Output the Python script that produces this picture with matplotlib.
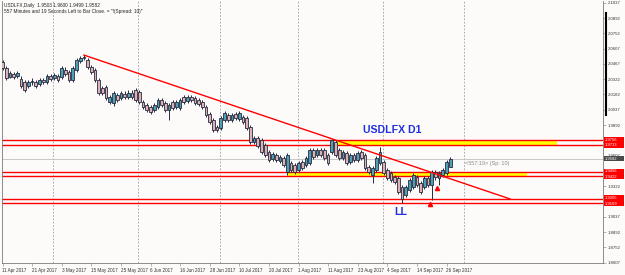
import matplotlib
matplotlib.use('Agg')
import matplotlib.pyplot as plt
from matplotlib.lines import Line2D
from matplotlib.patches import Rectangle

# ---------------- data ----------------
opens = [2.0484, 2.0428, 2.0344, 2.0372, 2.0353, 2.0325, 2.0297, 2.0260, 2.0297, 2.0297,
         2.0278, 2.0316, 2.0297, 2.0353, 2.0335, 2.0353, 2.0344, 2.0409, 2.0391, 2.0316,
         2.0409, 2.0493, 2.0521, 2.0503, 2.0437, 2.0409, 2.0316, 2.0241, 2.0250, 2.0110,
         2.0101, 2.0176, 2.0148, 2.0185, 2.0157, 2.0194, 2.0222, 2.0204, 2.0110, 2.0082,
         2.0064, 2.0036, 2.0064, 2.0129, 2.0101, 2.0036, 2.0110, 2.0064, 2.0054, 2.0157,
         2.0120, 2.0157, 2.0148, 2.0129, 2.0110, 2.0064, 1.9998, 1.9942, 1.9877, 1.9868,
         1.9942, 1.9989, 1.9942, 1.9998, 1.9952, 1.9970, 1.9961, 1.9877, 1.9737, 1.9774,
         1.9755, 1.9709, 1.9643, 1.9578, 1.9615, 1.9559, 1.9587, 1.9457, 1.9541, 1.9522,
         1.9475, 1.9550, 1.9522, 1.9541, 1.9662, 1.9615, 1.9662, 1.9662, 1.9615, 1.9643,
         1.9737, 1.9662, 1.9587, 1.9634, 1.9550, 1.9615, 1.9569, 1.9643, 1.9615, 1.9503,
         1.9428, 1.9475, 1.9541, 1.9550, 1.9475, 1.9447, 1.9410, 1.9401, 1.9316, 1.9242,
         1.9288, 1.9316, 1.9410, 1.9354, 1.9316, 1.9401, 1.9335, 1.9457, 1.9401, 1.9428,
         1.9447, 1.9503]
highs = [2.0503, 2.0447, 2.0400, 2.0391, 2.0400, 2.0353, 2.0316, 2.0316, 2.0335, 2.0316,
         2.0335, 2.0335, 2.0372, 2.0372, 2.0381, 2.0372, 2.0447, 2.0437, 2.0409, 2.0447,
         2.0521, 2.0540, 2.0549, 2.0521, 2.0456, 2.0428, 2.0335, 2.0260, 2.0269, 2.0176,
         2.0213, 2.0194, 2.0213, 2.0213, 2.0222, 2.0222, 2.0241, 2.0222, 2.0129, 2.0101,
         2.0082, 2.0101, 2.0148, 2.0148, 2.0120, 2.0101, 2.0129, 2.0129, 2.0148, 2.0176,
         2.0176, 2.0176, 2.0166, 2.0148, 2.0129, 2.0082, 2.0017, 1.9961, 1.9896, 1.9980,
         2.0026, 2.0008, 2.0008, 2.0017, 2.0026, 1.9989, 1.9980, 1.9896, 1.9793, 1.9793,
         1.9774, 1.9727, 1.9662, 1.9643, 1.9634, 1.9615, 1.9606, 1.9634, 1.9559, 1.9541,
         1.9559, 1.9569, 1.9606, 1.9681, 1.9681, 1.9681, 1.9681, 1.9681, 1.9634, 1.9765,
         1.9755, 1.9681, 1.9662, 1.9653, 1.9634, 1.9634, 1.9653, 1.9662, 1.9634, 1.9522,
         1.9513, 1.9606, 1.9690, 1.9569, 1.9494, 1.9466, 1.9428, 1.9419, 1.9335, 1.9335,
         1.9401, 1.9447, 1.9428, 1.9372, 1.9419, 1.9419, 1.9475, 1.9475, 1.9466, 1.9494,
         1.9569, 1.9600]
lows = [2.0409, 2.0316, 2.0335, 2.0325, 2.0335, 2.0241, 2.0204, 2.0241, 2.0269, 2.0241,
        2.0260, 2.0278, 2.0278, 2.0306, 2.0316, 2.0297, 2.0325, 2.0353, 2.0297, 2.0297,
        2.0391, 2.0475, 2.0503, 2.0419, 2.0372, 2.0297, 2.0176, 2.0176, 2.0129, 2.0092,
        2.0073, 2.0110, 2.0129, 2.0138, 2.0138, 2.0138, 2.0110, 2.0092, 2.0045, 2.0017,
        1.9998, 2.0017, 2.0045, 2.0064, 2.0017, 1.9942, 2.0036, 2.0045, 2.0036, 2.0092,
        2.0101, 2.0110, 2.0082, 2.0073, 2.0045, 1.9970, 1.9905, 1.9830, 1.9830, 1.9849,
        1.9924, 1.9924, 1.9924, 1.9942, 1.9933, 1.9905, 1.9849, 1.9718, 1.9718, 1.9681,
        1.9625, 1.9597, 1.9550, 1.9559, 1.9550, 1.9541, 1.9503, 1.9428, 1.9457, 1.9438,
        1.9457, 1.9475, 1.9503, 1.9522, 1.9578, 1.9597, 1.9597, 1.9569, 1.9522, 1.9625,
        1.9597, 1.9569, 1.9569, 1.9522, 1.9531, 1.9550, 1.9550, 1.9569, 1.9475, 1.9438,
        1.9354, 1.9457, 1.9522, 1.9428, 1.9382, 1.9363, 1.9344, 1.9251, 1.9167, 1.9223,
        1.9270, 1.9298, 1.9316, 1.9251, 1.9298, 1.9316, 1.9195, 1.9382, 1.9335, 1.9410,
        1.9428, 1.9499]
closes = [2.0428, 2.0335, 2.0381, 2.0344, 2.0381, 2.0260, 2.0223, 2.0297, 2.0306, 2.0260,
          2.0316, 2.0297, 2.0353, 2.0325, 2.0363, 2.0316, 2.0428, 2.0372, 2.0316, 2.0428,
          2.0503, 2.0521, 2.0531, 2.0437, 2.0391, 2.0316, 2.0194, 2.0194, 2.0148, 2.0157,
          2.0194, 2.0129, 2.0194, 2.0157, 2.0194, 2.0157, 2.0129, 2.0110, 2.0063, 2.0036,
          2.0017, 2.0082, 2.0129, 2.0082, 2.0036, 2.0082, 2.0054, 2.0110, 2.0129, 2.0110,
          2.0157, 2.0129, 2.0101, 2.0092, 2.0064, 1.9989, 1.9924, 1.9849, 1.9849, 1.9961,
          2.0008, 1.9942, 1.9989, 1.9961, 2.0008, 1.9924, 1.9868, 1.9737, 1.9774, 1.9699,
          1.9643, 1.9615, 1.9569, 1.9625, 1.9569, 1.9597, 1.9522, 1.9615, 1.9475, 1.9457,
          1.9541, 1.9494, 1.9587, 1.9662, 1.9597, 1.9662, 1.9615, 1.9587, 1.9541, 1.9755,
          1.9615, 1.9587, 1.9643, 1.9541, 1.9615, 1.9569, 1.9634, 1.9587, 1.9494, 1.9457,
          1.9494, 1.9587, 1.9643, 1.9447, 1.9401, 1.9382, 1.9363, 1.9270, 1.9204, 1.9316,
          1.9382, 1.9428, 1.9335, 1.9270, 1.9401, 1.9335, 1.9457, 1.9410, 1.9447, 1.9475,
          1.9550, 1.9582]

date_ticks = [0, 8, 16, 24, 32, 40, 48, 56, 64, 72, 80, 88, 96, 104, 112, 120]
date_labels = ['11 Apr 2017', '21 Apr 2017', '3 May 2017', '15 May 2017', '25 May 2017',
               '6 Jun 2017', '16 Jun 2017', '28 Jun 2017', '10 Jul 2017', '20 Jul 2017',
               '1 Aug 2017', '11 Aug 2017', '23 Aug 2017', '4 Sep 2017', '14 Sep 2017',
               '26 Sep 2017']
price_ticks = [2.1037, 2.0892, 2.0752, 2.0607, 2.0467, 2.0322, 2.0182, 2.0037, 1.9892,
               1.9752, 1.9607, 1.9467, 1.9322, 1.9182, 1.9037, 1.8892, 1.8752, 1.8607]
hidden_ticks = [1.9752, 1.9467, 1.9182]   # covered by the level boxes
grid_x = [13.7, 36.6, 58.8, 79.9, 102.8, 124.7]

level_pairs = [(1.9756, 1.9713), (1.9456, 1.9422), (1.9205, 1.9169)]
upper_zone = (1.9713, 1.9756)
upper_zone_x = (90.4, 149.9)
lower_zone = (1.9422, 1.9456)
lower_zone_x = (76.9, 141.8)
trend_x = [22, 137.2]
trend_y = [2.0549, 1.9205]
arrow_x = [115.6, 117.5]
arrow_y = [1.9160, 1.9305]
current_price = 1.9582

# ---------------- style ----------------
BG = '#fdfbfa'
BULL = '#4f9fb4'
BEAR = '#dcb2b4'
EDGE = '#262b40'
RED = '#ff0000'
BLUE = '#1f2fe0'
FONT = ['Liberation Sans', 'DejaVu Sans']
plt.rcParams['font.family'] = FONT

W, H = 625, 275
fig = plt.figure(figsize=(W / 100, H / 100), dpi=100, facecolor=BG)
ax_left, ax_right, ax_top, ax_bot = 2, 603, 1, 263
ax = fig.add_axes([ax_left / W, 1 - ax_bot / H, (ax_right - ax_left) / W, (ax_bot - ax_top) / H])
ax.set_facecolor(BG)

px_per_bar = 3.7
x0 = 2.5
ax.set_xlim((ax_left - x0) / px_per_bar, (ax_right - x0) / px_per_bar)
ax.set_ylim(1.8607, 2.1054)

# grid
for gx in grid_x:
    ax.axvline(gx, color='#9a9a9a', lw=0.6, ls=(0, (2, 2)), zorder=0)

# current price line
ax.axhline(current_price, color='#c0c0c0', lw=0.6, zorder=1)

# zones
ax.add_patch(Rectangle((upper_zone_x[0], upper_zone[0]), upper_zone_x[1] - upper_zone_x[0],
                       upper_zone[1] - upper_zone[0], facecolor='#ffff00', edgecolor='none', zorder=1))
ax.add_patch(Rectangle((lower_zone_x[0], lower_zone[0]), lower_zone_x[1] - lower_zone_x[0],
                       lower_zone[1] - lower_zone[0], facecolor='#ffff00', edgecolor='none', zorder=1))
for pair in level_pairs:
    for lv in pair:
        ax.axhline(lv, color=RED, lw=1.0, zorder=2)

# candles
xs = list(range(len(opens)))
ax.vlines(xs, lows, highs, color=EDGE, lw=0.7, zorder=3)
bottoms = [min(o, c) for o, c in zip(opens, closes)]
heights = [max(abs(c - o), 0.0002) for o, c in zip(opens, closes)]
colors = [BULL if c >= o else BEAR for o, c in zip(opens, closes)]
ax.bar(xs, heights, bottom=bottoms, width=0.72, color=colors, edgecolor=EDGE, linewidth=0.6, zorder=4)

# trendline
ax.plot(trend_x, trend_y, color=RED, lw=1.0, zorder=5)

# arrows
ax.plot(arrow_x, arrow_y, ls='none', marker='^', ms=3, mfc=RED, mec=RED, zorder=6)

# annotations
ax.text(97.5, 1.9846, 'USDLFX D1', color=BLUE, fontsize=7.6, fontweight='bold', ha='left', va='center', zorder=6)
ax.text(106.0, 1.9083, 'LL', color=BLUE, fontsize=7.6, fontweight='bold', ha='left', va='center', zorder=6)
ax.text(125.0, 1.9540, '<557:19> (Sp: 10)', color='#8a8a8a', fontsize=4.0, ha='left', va='center', zorder=6)

# header text
fig.text(4 / W, 1 - 5 / H, 'USDLFX,Daily  1.9503 1.9600 1.9499 1.9582', fontsize=3.4, color='#222222',
         ha='left', va='center')
fig.text(4 / W, 1 - 11 / H, '557 Minutes and 19 Seconds Left to Bar Close. = "!(Spread: 10)"', fontsize=3.4,
         color='#222222', ha='left', va='center')

# axes styling
ax.spines['top'].set_visible(False)
for s in ['left', 'bottom', 'right']:
    ax.spines[s].set_color('#7a7a7a')
    ax.spines[s].set_linewidth(0.6)

ax.set_xticks(date_ticks)
ax.set_xticklabels(date_labels, fontsize=3.3, color='#333333')
for lab in ax.get_xticklabels():
    lab.set_horizontalalignment('left')
ax.tick_params(axis='x', length=2, width=0.4, color='#7a7a7a', pad=1.5)

ax.yaxis.tick_right()
ax.set_yticks(price_ticks)
ax.set_yticklabels(['' if p in hidden_ticks else f'{p:.4f}' for p in price_ticks],
                   fontsize=3.1, color='#333333')
ax.tick_params(axis='y', length=2, width=0.4, color='#7a7a7a', pad=1.5)

fig.canvas.draw()


def ypix(p):
    # figure fraction of a price
    return ax.transData.transform((0, p))[1] / H


def box(y_lo, y_hi, fc, label):
    fig.patches.append(Rectangle((604 / W, y_lo), 20 / W, y_hi - y_lo, transform=fig.transFigure,
                                 facecolor=fc, edgecolor='none', zorder=10))
    fig.text(605 / W, (y_lo + y_hi) / 2, label, fontsize=3.0, color='white', ha='left', va='center', zorder=11)


bh = 5.4 / H
for hi, lo in level_pairs:
    mid = (ypix(hi) + ypix(lo)) / 2
    box(mid, mid + bh, RED, f'{hi:.4f}')
    box(mid - bh, mid, RED, f'{lo:.4f}')
yc = ypix(current_price)
box(yc - bh / 2, yc + bh / 2, '#4a4a4a', f'{current_price:.4f}')

# scale bar on the price axis
fig.lines.append(Line2D([606 / W, 606 / W], [1 - 13 / H, 1 - 115 / H], transform=fig.transFigure,
                        color='black', lw=1.5, zorder=9))

fig.savefig('out.png', dpi=100, facecolor=BG)
